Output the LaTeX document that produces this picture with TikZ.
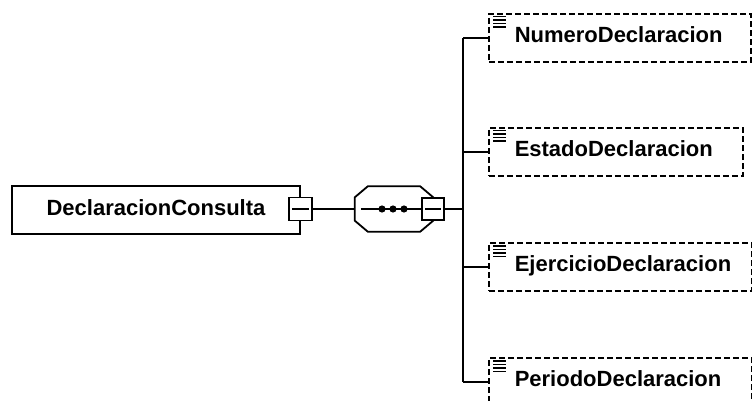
\documentclass[tikz,border=0pt]{standalone}
\usepackage{fontspec}
\setmainfont{Liberation Sans}
\usetikzlibrary{positioning,calc}

\begin{document}
\begin{tikzpicture}[
    x=1pt, y=-1pt,
    elembox/.style={rectangle, draw, line width=2pt, minimum width=288pt, minimum height=48pt, inner sep=0pt, font=\fontsize{22}{26}\selectfont\bfseries, text depth=4pt},
    childbox/.style={rectangle, draw, dash pattern=on 6pt off 3pt, line width=1.5pt, minimum height=48pt, inner xsep=26pt, inner ysep=0pt, align=left, font=\fontsize{22}{26}\selectfont\bfseries, text depth=6pt, anchor=west},
    plusbox/.style={rectangle, draw, fill=white, line width=1.8pt, minimum size=23pt, inner sep=0pt},
    conn/.style={line width=2pt}
]
\useasboundingbox (0,0) rectangle (752,401);

% Root element
\node[elembox] (decl) at (156,210) {DeclaracionConsulta};
\node[plusbox] (declplus) at (300.5,209) {};
\draw[conn] ($(declplus.west)+(4,0)$) -- ($(declplus.east)+(-4,0)$);

% Sequence compositor
\node[minimum width=78pt, minimum height=45pt, inner sep=0pt] (seq) at (394,209) {};
\draw[line width=1.8pt] ($(seq.north west)+(13,0)$) -- ($(seq.north east)+(-13,0)$)
    -- ($(seq.north east)+(0,11)$) -- ($(seq.south east)+(0,-11)$)
    -- ($(seq.south east)+(-13,0)$) -- ($(seq.south west)+(13,0)$)
    -- ($(seq.south west)+(0,-11)$) -- ($(seq.north west)+(0,11)$) -- cycle;
\node[plusbox, minimum size=22pt] (seqplus) at (seq.east) {};
\draw[conn] ($(seqplus.west)+(4,0)$) -- ($(seqplus.east)+(-4,0)$);
\draw[conn] ($(seq.west)+(6,0)$) -- (seqplus.west);
\foreach \dx in {-12,-1,10}
    \fill ($(seq.center)+(\dx,0)$) circle (3.6pt);

\draw[conn] (declplus.east) -- (seq.west);
\coordinate (bus) at (463,209);
\draw[conn] (seqplus.east) -- (bus);

% Child elements
\node[childbox, text width=210pt] (numero) at (488,38) {NumeroDeclaracion};
\node[childbox, text width=202pt] (estado) at (488,152) {EstadoDeclaracion};
\node[childbox, text width=211pt] (ejercicio) at (488,267) {EjercicioDeclaracion};
\node[childbox, text width=211pt] (periodo) at (488,382) {PeriodoDeclaracion};

\foreach \n in {numero,estado,ejercicio,periodo} {
    \foreach \k in {3.5,7,10.5,14}
        \draw[line width=1.5pt] ($(\n.north west)+(5,\k)$) -- ++(13,0);
    \draw[conn] (bus |- \n.west) -- (\n.west);
}
\draw[conn] (bus |- numero.west) -- (bus |- periodo.west);

\end{tikzpicture}
\end{document}
